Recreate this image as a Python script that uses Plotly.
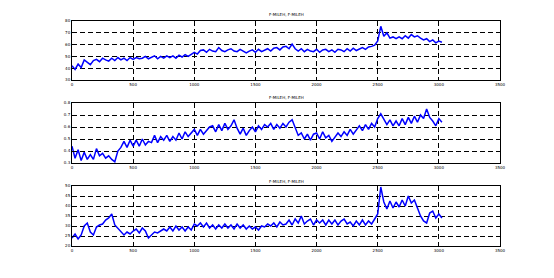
import plotly.graph_objects as go

# ---- data (x is sample index, step 25) ----
x_step = 25
x_ticks = [0, 500, 1000, 1500, 2000, 2500, 3000, 3500]

series1 = [42, 39, 43.5, 40.5,
           47, 45, 43, 46.5,
           47.5, 45.5, 48.5, 47, 46, 48.5, 46.5, 49, 47, 48.5, 46.5, 49, 47.5,
           49, 48, 48.5, 50, 48, 49.5, 50.5, 48, 50, 48.5, 50.5, 49,
           50.5, 48.5, 51, 49.5, 51.5, 50, 52,
           53.5, 52, 55,
           55.5, 53.5, 56, 54.5, 54, 57.5, 55, 54, 55.5, 56.5, 54.5, 54, 56,
           54.5, 53, 54.5, 55.5, 53.5, 56, 54, 55.5, 56.5, 54.5, 57, 57.5, 55.5, 58, 58.5, 56.5,
           60.5,
           56.5, 54.5, 56.5, 54, 56, 54.5, 54, 56, 53.5, 55.5, 56, 54, 55.5, 53.5, 56,
           55.5, 54, 56.5, 54.5, 57, 55, 56.5, 57.5, 56, 58,
           58.5, 59.5,
           63, 75.5, 67,
           70, 65.5, 66.5, 65, 66.5,
           65, 67.5, 65.5, 68.5, 66.5, 67.5,
           65.5, 64, 65, 62.5, 64, 61.5, 63, 62]

series2 = [0.44, 0.34, 0.41, 0.32,
           0.39, 0.33, 0.37, 0.33,
           0.42, 0.36,
           0.38, 0.34, 0.36,
           0.33, 0.31,
           0.40, 0.43,
           0.48, 0.43, 0.49, 0.44,
           0.49, 0.44, 0.50, 0.45, 0.48,
           0.47, 0.53, 0.47, 0.52, 0.49,
           0.53, 0.48, 0.52, 0.49,
           0.55, 0.50, 0.56, 0.52, 0.55,
           0.58, 0.53, 0.58, 0.54, 0.57, 0.60,
           0.61, 0.56, 0.62, 0.57, 0.63, 0.58, 0.61,
           0.66,
           0.59, 0.54, 0.59, 0.53, 0.57,
           0.60, 0.56, 0.61, 0.58, 0.62, 0.60,
           0.63, 0.58, 0.62, 0.59, 0.63, 0.60, 0.64,
           0.66,
           0.60, 0.53, 0.55, 0.50, 0.54, 0.49, 0.54,
           0.55, 0.50, 0.56, 0.51, 0.53, 0.48, 0.52,
           0.55, 0.52, 0.56, 0.53, 0.58, 0.54, 0.58,
           0.61, 0.57, 0.62, 0.58, 0.63, 0.60,
           0.67, 0.71,
           0.67, 0.62, 0.66, 0.61, 0.65,
           0.61, 0.67, 0.62, 0.68, 0.63, 0.69, 0.64,
           0.70, 0.67, 0.75, 0.68,
           0.65, 0.61,
           0.67, 0.64]

series3 = [24, 26, 23.5, 25.5,
           30, 31.5,
           27, 25.5,
           29.5, 30.5,
           31, 33, 34,
           36,
           30.5, 29,
           27.5, 25.5,
           27, 26, 27.5,
           28.5, 26.5, 29, 27.5,
           24,
           25.5, 27, 26.5, 27.5,
           28.5, 27.5, 29.5, 27.5, 30, 28, 29.5, 27.5, 29.5, 28,
           31, 30, 31.5, 29.5, 31.5,
           29, 30.5, 28.5, 30.5, 29, 31, 29, 30.5, 28.5, 31, 29, 30.5, 28.5, 30,
           28.5, 29.5, 28, 30, 29.5, 31,
           30, 31.5, 29.5, 32, 30.5,
           31, 33, 30.5, 33.5, 31.5, 35, 31, 32.5, 33.5, 30.5, 33,
           31.5, 33, 30.5, 33, 31, 33, 30.5, 32.5, 33.5, 31,
           32, 30, 32.5, 30.5, 33, 30.5, 32.5, 31, 33.5,
           36, 49.5, 42,
           38.5, 42.5, 39, 42,
           39.5, 43, 40, 45, 41.5,
           43, 39,
           35, 32.5,
           31.5, 36.5,
           37.5, 34,
           36, 34]

titles = ["F-MILEH, F-MILEH", "F-MILEH, F-MILEH", "F-MILEH, F-MILEH"]
y_ranges = [(30, 80), (0.3, 0.8), (20, 50)]
y_dticks = [10, 0.1, 5]

# ---- layout geometry (pixels) ----
W, H = 554, 278
x0, x1 = 72, 500
panels_px = [(21, 80), (103, 163), (186, 246)]
title_y_px = [14, 97, 181]

fig = go.Figure()
all_series = [series1, series2, series3]
for i, s in enumerate(all_series):
    xs = [k * x_step for k in range(len(s))]
    fig.add_trace(go.Scatter(
        x=xs, y=s, mode="lines",
        line=dict(color="#0000FF", width=1.5),
        xaxis=f"x{i+1}" if i else "x", yaxis=f"y{i+1}" if i else "y",
        showlegend=False, hoverinfo="skip"))

layout = dict(width=W, height=H, margin=dict(l=0, r=0, t=0, b=0),
              paper_bgcolor="white", plot_bgcolor="white", showlegend=False)

axis_common = dict(showline=True, linecolor="black", linewidth=1, mirror="ticks",
                   ticks="inside", ticklen=2, tickcolor="black",
                   showgrid=True, gridcolor="black", gridwidth=1, griddash="5px,3px",
                   zeroline=False, tickfont=dict(size=4, color="black", family="DejaVu Sans"),
                   automargin=False)

annotations = []
for i, (top, bot) in enumerate(panels_px):
    xa = "xaxis" if i == 0 else f"xaxis{i+1}"
    ya = "yaxis" if i == 0 else f"yaxis{i+1}"
    layout[xa] = dict(axis_common, domain=[x0 / W, x1 / W], range=[0, 3500],
                      tickvals=x_ticks, anchor="y" if i == 0 else f"y{i+1}")
    layout[ya] = dict(axis_common, domain=[1 - bot / H, 1 - top / H],
                      range=list(y_ranges[i]), dtick=y_dticks[i],
                      anchor="x" if i == 0 else f"x{i+1}")
    annotations.append(dict(text=titles[i], x=(x0 + x1) / 2 / W, y=1 - title_y_px[i] / H,
                            xref="paper", yref="paper", showarrow=False,
                            font=dict(size=4, color="black", family="DejaVu Sans"),
                            xanchor="center", yanchor="middle"))
layout["annotations"] = annotations
fig.update_layout(**layout)
fig.write_html("out.html")
